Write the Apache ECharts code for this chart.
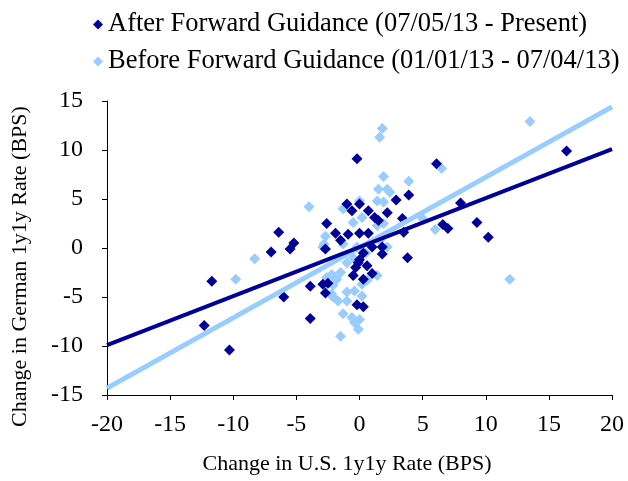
<!DOCTYPE html>
<html>
<head>
<meta charset="utf-8">
<script src="https://cdn.jsdelivr.net/npm/echarts@6/dist/echarts.min.js"></script>
<style>
  html, body { margin: 0; padding: 0; background: #fff; }
  #main { width: 628px; height: 481px; }
</style>
</head>
<body>
<div id="main"></div>
<script>
// after forward guidance (07/05/13 - present): [US change, German change]
var afterPoints = [
  [-11.7,-3.4],[-12.3,-7.9],[-10.3,-10.4],[-7.0,-0.4],[-6.4,1.6],[-5.5,-0.1],[-5.2,0.5],
  [-6.0,-5.0],[-3.9,-3.9],[-3.9,-7.2],[-2.9,-3.7],[-2.5,-3.6],[-2.7,-4.6],[-2.6,2.5],
  [-2.7,-0.1],[-1.9,1.5],[-1.5,0.8],[-0.9,1.4],[0.0,1.5],[0.7,1.5],[-1.0,4.5],[-0.6,3.8],
  [0.0,4.5],[0.7,3.8],[1.2,3.1],[1.5,2.8],[2.2,3.6],[2.9,4.9],[3.9,5.4],[3.4,3.0],[3.5,1.6],
  [-0.2,9.1],[6.1,8.6],[8.0,4.6],[6.6,2.4],[7.0,2.0],[9.3,2.6],[10.2,1.1],[16.4,9.9],
  [3.8,-1.0],[1.8,-0.6],[-0.2,-5.8],[0.3,-6.0],[-0.1,-1.5],[0.6,-1.8],[-0.5,-2.8],
  [1.0,-2.6],[0.3,-3.2],[0.0,-1.2],[-0.3,-2.0],[1.0,0.1],[1.8,0.1],[0.3,-0.5]
];
// before forward guidance (01/01/13 - 07/04/13)
var beforePoints = [
  [-9.8,-3.2],[-8.3,-1.1],[-4.0,4.2],[-2.9,0.1],[-2.7,1.2],[-2.8,0.4],[-2.2,-2.7],
  [-1.8,-3.2],[-1.5,-2.5],[-2.6,-3.0],[-2.1,-3.8],[-2.2,-4.7],[-2.1,-5.0],[-1.7,-5.4],
  [-1.0,-4.5],[-1.0,-5.4],[-0.4,-4.4],[0.2,-3.7],[0.6,-3.3],[0.2,-4.9],[1.4,-2.8],
  [-1.3,-6.7],[-0.6,-7.1],[-0.4,-7.6],[0.0,-7.3],[-0.1,-8.3],[-1.5,-9.0],[2.2,0.1],
  [-1.3,0.4],[-0.2,0.1],[1.6,0.8],[0.2,3.1],[-0.5,2.6],[1.4,2.3],[1.9,2.5],[0.0,4.8],
  [-1.3,4.0],[1.4,4.8],[1.9,4.7],[1.5,6.0],[2.2,6.0],[2.4,5.7],[1.9,7.3],[3.9,6.8],
  [1.8,12.2],[1.6,11.3],[6.5,8.1],[6.0,1.9],[5.0,3.0],[11.9,-3.2],[13.5,12.9],
  [-0.5,-1.0],[0.5,-0.5],[-1.0,-1.5]
];
// linear trendline end points
var afterTrend = [[-20, -9.9], [20, 10.1]];
var beforeTrend = [[-20, -14.3], [20, 14.4]];

var xTicks = [-20, 20, 5];
var yTicks = [-15, 15, 5];

var darkBlue = '#000099';
var lightBlue = '#99ccff';
var serif = '"Liberation Serif", "DejaVu Serif", serif';

var chart = echarts.init(document.getElementById('main'));
chart.setOption({
  animation: false,
  textStyle: { fontFamily: serif, color: '#000' },
  legend: {
    orient: 'vertical',
    left: 88,
    top: 6,
    itemGap: 10,
    itemWidth: 10,
    itemHeight: 10,
    itemStyle: { borderWidth: 0 },
    textStyle: { fontFamily: serif, fontSize: 26.5, color: '#000' },
    data: [
      { name: 'After Forward Guidance (07/05/13 - Present)', icon: 'diamond' },
      { name: 'Before Forward Guidance (01/01/13 - 07/04/13)', icon: 'diamond' }
    ]
  },
  grid: { left: 107, right: 16, top: 101, bottom: 86 },
  xAxis: {
    type: 'value',
    min: xTicks[0], max: xTicks[1], interval: xTicks[2],
    name: 'Change in U.S. 1y1y Rate (BPS)',
    nameLocation: 'middle',
    nameGap: 58,
    nameTextStyle: { fontFamily: serif, fontSize: 22, color: '#000', padding: [0, 25, 0, 0] },
    axisLine: { onZero: false, lineStyle: { color: '#000', width: 1 } },
    axisTick: { inside: false, length: 5, lineStyle: { color: '#000' } },
    axisLabel: { fontFamily: serif, fontSize: 24, color: '#000', margin: 18 },
    splitLine: { show: false }
  },
  yAxis: {
    type: 'value',
    min: yTicks[0], max: yTicks[1], interval: yTicks[2],
    name: 'Change in German 1y1y Rate (BPS)',
    nameLocation: 'middle',
    nameGap: 76,
    nameTextStyle: { fontFamily: serif, fontSize: 22, color: '#000', padding: [0, 37, 0, 0] },
    axisLine: { onZero: false, lineStyle: { color: '#000', width: 1 } },
    axisTick: { inside: false, length: 5, lineStyle: { color: '#000' } },
    axisLabel: { fontFamily: serif, fontSize: 24, color: '#000', margin: 24 },
    splitLine: { show: false }
  },
  series: [
    {
      name: 'Before Forward Guidance (01/01/13 - 07/04/13)',
      type: 'scatter',
      symbol: 'diamond',
      symbolSize: 11,
      itemStyle: { color: lightBlue, opacity: 1 },
      data: beforePoints,
      z: 2
    },
    {
      name: 'After Forward Guidance (07/05/13 - Present)',
      type: 'scatter',
      symbol: 'diamond',
      symbolSize: 11,
      itemStyle: { color: darkBlue, opacity: 1 },
      data: afterPoints,
      z: 3
    },
    {
      type: 'line',
      data: beforeTrend,
      symbol: 'none',
      lineStyle: { color: lightBlue, width: 5 },
      silent: true,
      z: 4
    },
    {
      type: 'line',
      data: afterTrend,
      symbol: 'none',
      lineStyle: { color: darkBlue, width: 4 },
      silent: true,
      z: 5
    }
  ]
});
</script>
</body>
</html>
